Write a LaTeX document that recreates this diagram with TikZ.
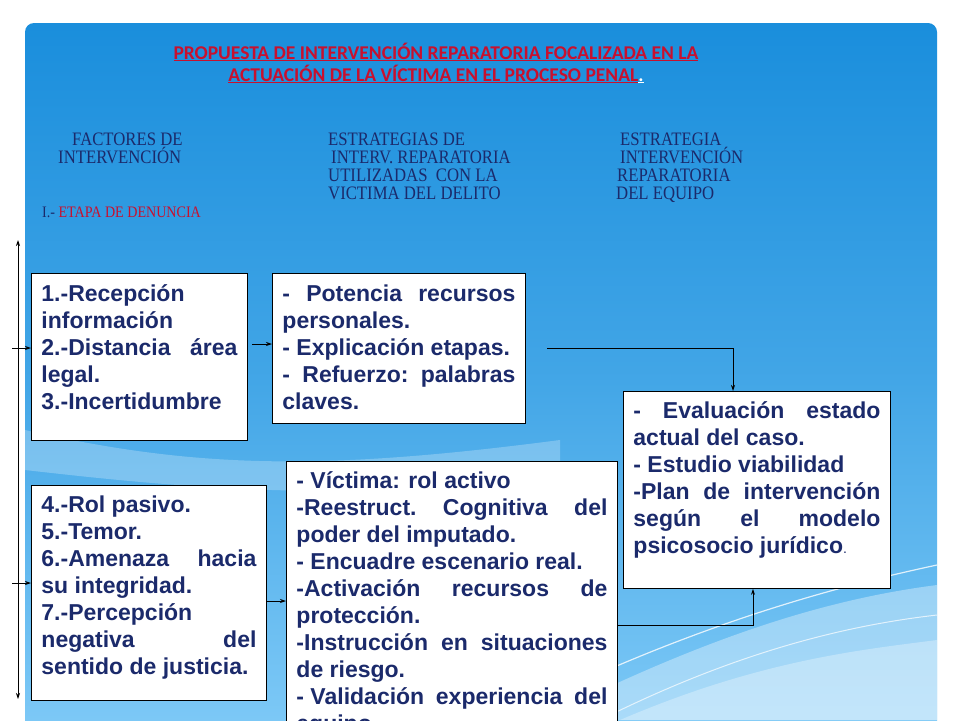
\documentclass[tikz,border=0pt]{standalone}
\usepackage{fontspec}
\setmainfont{Liberation Sans}
\newfontfamily\ttlfont{Carlito}
\newfontfamily\hdrfont[FakeStretch=0.88]{Liberation Serif}
\usetikzlibrary{arrows.meta}
\definecolor{navy}{HTML}{1B2A6B}
\definecolor{ttlred}{HTML}{C8102E}
\definecolor{bgtop}{HTML}{1A8EDC}
\definecolor{bgbot}{HTML}{7CC8F6}
\tikzset{
  box/.style={draw=black, line width=0.9pt, fill=white, inner xsep=10pt, inner ysep=0pt, anchor=north west, text=navy, font=\bfseries},
  conn/.style={line width=0.8pt, -{Stealth[length=6pt,width=4pt]}},
  hdr/.style={anchor=north west, align=left, text=navy, font=\hdrfont\fontsize{19}{18}\selectfont, inner sep=0pt}
}
\newcommand{\bx}[4]{\parbox[c][#2pt][t]{#1pt}{\fontsize{23}{27}\selectfont\rule{0pt}{#3pt}#4}}
\begin{document}
\begin{tikzpicture}[x=1pt,y=-1pt]
\useasboundingbox (0,0) rectangle (960,720);
\fill[white] (0,0) rectangle (960,720);
\begin{scope}
\clip[rounded corners=9pt] (25,23) rectangle (937,760);
\shade[top color=bgtop, bottom color=bgbot, middle color={bgtop!60!bgbot}] (25,23) rectangle (937,720);
\fill[white, opacity=0.35] (540,720) .. controls (700,640) and (820,600) .. (937,585) -- (937,720) -- cycle;
\fill[white, opacity=0.3] (620,720) .. controls (760,660) and (860,650) .. (937,640) -- (937,720) -- cycle;
\draw[white, line width=1.2pt, opacity=0.8] (500,720) .. controls (680,630) and (820,590) .. (937,565);
\draw[white, line width=1pt, opacity=0.7] (600,720) .. controls (740,650) and (850,625) .. (937,615);
\fill[white, opacity=0.25] (25,430) .. controls (200,470) and (330,470) .. (560,440) -- (560,480) .. controls (330,500) and (200,490) .. (25,470) -- cycle;
\end{scope}
% title
\node[text=ttlred, font=\ttlfont\bfseries\fontsize{19.5}{22}\selectfont, align=center, inner sep=0pt] (ttl) at (436,63)
 {\underline{PROPUESTA DE INTERVENCIÓN REPARATORIA FOCALIZADA EN LA}\\ \underline{ACTUACIÓN DE LA VÍCTIMA EN EL PROCESO PENAL}\textcolor{white}{\underline{.}}};
% headers
\node[hdr] (h1) at (58,133) {\hspace*{14pt}FACTORES DE\\INTERVENCIÓN};
\node[hdr] (h2) at (328,133) {ESTRATEGIAS DE\\\hspace*{3pt}INTERV. REPARATORIA\\UTILIZADAS\ \ CON LA\\VICTIMA DEL DELITO};
\node[hdr] (h3) at (616,133) {\hspace*{4pt}ESTRATEGIA\\\hspace*{4pt}INTERVENCIÓN\\\hspace*{1pt}REPARATORIA\\DEL EQUIPO};
\node[anchor=west, inner sep=0pt, font=\hdrfont\fontsize{16}{16}\selectfont] (et) at (42,212) {\textcolor{navy}{I.-} \textcolor{ttlred}{ETAPA DE DENUNCIA}};
% boxes
\node[box] (b1) at (31,273) {\bx{196}{167}{28}{1.-Recepción\\información\\2.-Distancia\hfill área\\legal.\\3.-Incertidumbre}};
\node[box] (b2) at (272,273) {\bx{233}{150}{28}{-\hfill Potencia\hfill recursos\\personales.\\- Explicación etapas.\\-\hfill Refuerzo:\hfill palabras\\claves.}};
\node[box] (b4) at (31,485) {\bx{215}{215}{27}{4.-Rol pasivo.\\5.-Temor.\\6.-Amenaza\hfill hacia\\su integridad.\\7.-Percepción\\negativa\hfill del\\sentido de justicia.}};
\node[box] (b3) at (286,461) {\bx{311}{290}{27}{- Víctima: rol activo\\-Reestruct.\hfill Cognitiva\hfill del\\poder del imputado.\\- Encuadre escenario real.\\-Activación\hfill recursos\hfill de\\protección.\\-Instrucción\hfill en\hfill situaciones\\de riesgo.\\- Validación\hfill experiencia\hfill del\\equipo}};
\node[box] (b5) at (623,391) {\bx{247}{197}{27}{-\hfill Evaluación\hfill estado\\actual del caso.\\- Estudio viabilidad\\-Plan\hfill de\hfill intervención\\según\hfill el\hfill modelo\\psicosocio jurídico{\mdseries\fontsize{14}{14}\selectfont .}}};
% left vertical line
\coordinate (vt) at (18,240);
\coordinate (vb) at (18,699);
\draw[line width=0.8pt, {Stealth[length=6pt,width=4pt]}-{Stealth[length=6pt,width=4pt]}] (vt) -- (vb);
\coordinate (a1) at (12,348);
\coordinate (a2) at (12,583);
\draw[conn] (a1) -- (b1.west |- a1);
\draw[conn] (a2) -- (b4.west |- a2);
% connectors
\coordinate (s1) at (252,344);
\draw[conn] (s1) -- (b2.west |- s1);
\draw[conn] (b4.east |- 0,601) -- (b3.west |- 0,601);
\coordinate (c1) at (547,348);
\draw[conn] (c1) -| (b5.north -| 733,0);
\draw[conn] (b3.east |- 0,625) -| (b5.south -| 753,0);
\end{tikzpicture}
\end{document}
